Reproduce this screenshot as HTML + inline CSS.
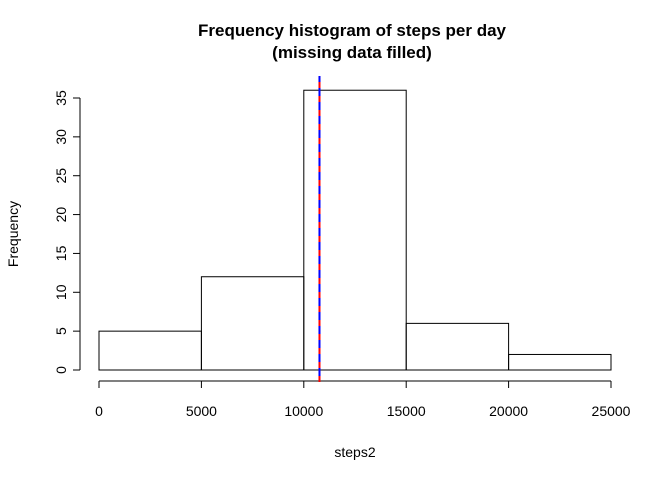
<!DOCTYPE html>
<html><head><meta charset="utf-8"><style>
body{margin:0;background:#fff;}
svg text{font-family:"Liberation Sans",Arial,sans-serif;}
</style></head><body>
<svg id="chart" width="672" height="480" viewBox="0 0 672 480" xmlns="http://www.w3.org/2000/svg">
<rect width="672" height="480" fill="#fff"/>
<text x="352" y="36" text-anchor="middle" font-weight="bold" font-size="17">Frequency histogram of steps per day</text>
<text x="352" y="58" text-anchor="middle" font-weight="bold" font-size="17">(missing data filled)</text>
<text x="355" y="457" text-anchor="middle" font-size="14">steps2</text>
<text transform="translate(18,234) rotate(-90)" text-anchor="middle" font-size="14">Frequency</text>
<g id="bars"></g><g id="axes"></g><g id="lines"></g>
</svg>
<script>
const binStarts=[0,5000,10000,15000,20000];
const binWidth=5000;
const counts=[5,12,36,6,2];
const xTicks=[0,5000,10000,15000,20000,25000];
const yTicks=[0,5,10,15,20,25,30,35];
const meanSteps=10766;
const medianSteps=10766;
const NS="http://www.w3.org/2000/svg";
const sx=v=>99+v*(512/25000);
const sy=v=>370-v*(272/35);
function mk(tag,attrs,parent){const e=document.createElementNS(NS,tag);for(const k in attrs)e.setAttribute(k,attrs[k]);parent.appendChild(e);return e;}
const bars=document.getElementById('bars'),axes=document.getElementById('axes'),lines=document.getElementById('lines');
counts.forEach((c,i)=>{
 const r=mk('rect',{x:sx(binStarts[i]),y:sy(c),width:sx(binStarts[i]+binWidth)-sx(binStarts[i]),height:sy(0)-sy(c),fill:'none',stroke:'#000','stroke-width':1},bars);
 
 
});
const xl=mk('line',{x1:sx(xTicks[0]),x2:sx(xTicks[xTicks.length-1]),y1:381,y2:381,stroke:'#000'},axes);


xTicks.forEach(t=>{
 mk('line',{x1:sx(t),x2:sx(t),y1:381,y2:388,stroke:'#000'},axes);
 const tx=mk('text',{x:sx(t),y:416,'text-anchor':'middle','font-size':14},axes);tx.textContent=t;
 
 
});
const yl=mk('line',{x1:80,x2:80,y1:sy(yTicks[0]),y2:sy(yTicks[yTicks.length-1]),stroke:'#000'},axes);


yTicks.forEach(t=>{
 mk('line',{x1:73,x2:80,y1:sy(t),y2:sy(t),stroke:'#000'},axes);
 const tx=mk('text',{transform:`translate(66,${sy(t)}) rotate(-90)`,'text-anchor':'middle','font-size':14},axes);tx.textContent=t;
 
 
});
const ml=mk('line',{x1:sx(meanSteps),x2:sx(meanSteps),y1:76,y2:382,stroke:'#ff0000','stroke-width':2},lines);


const dl=mk('line',{x1:sx(medianSteps),x2:sx(medianSteps),y1:76,y2:382,stroke:'#0000ff','stroke-width':2,'stroke-dasharray':'8,6','stroke-dashoffset':'-12'},lines);


</script>
</body></html>
